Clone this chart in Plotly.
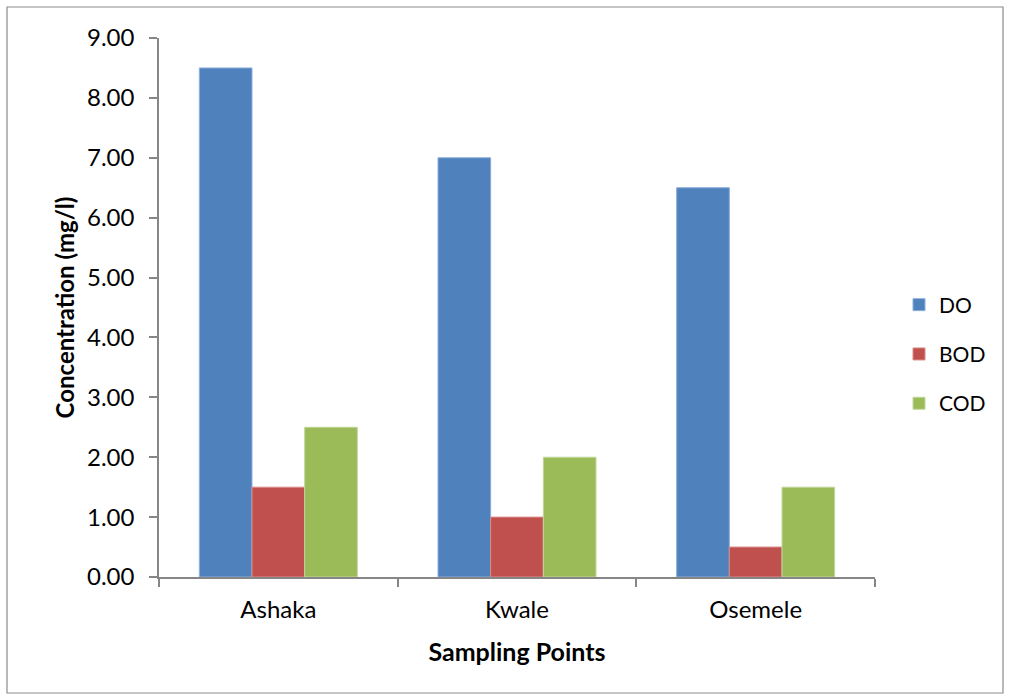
import plotly.graph_objects as go

# Sampling sites and measured concentrations (mg/l)
sites = ["Ashaka", "Kwale", "Osemele"]
do_values = [8.5, 7.0, 6.5]
bod_values = [1.5, 1.0, 0.5]
cod_values = [2.5, 2.0, 1.5]
y_ticks = [0, 1, 2, 3, 4, 5, 6, 7, 8, 9]
y_tick_text = [f"{v:.2f}" for v in y_ticks]

series = [
    ("DO", do_values, "#4F81BD", "#8EAEDB"),
    ("BOD", bod_values, "#C0504D", "#D98C8A"),
    ("COD", cod_values, "#9BBB59", "#C2D79A"),
]

font_family = "Lato, 'Open Sans', sans-serif"
axis_grey = "#868686"

fig = go.Figure()
for i, (name, vals, color, edge) in enumerate(series):
    fig.add_trace(go.Bar(
        x=sites, y=vals, name=name,
        marker=dict(color=color, line=dict(color=edge, width=1)),
        legendgroup=name,
    ))

# Outer frame around the whole chart
L, R, T, B = 159, 875, 38, 577
W = R - L
H = B - T
def px_x(p):
    return (p - L) / W
def px_y(p):
    return (B - p) / H

fig.add_shape(type="rect", xref="paper", yref="paper",
              x0=px_x(7), x1=px_x(1003), y0=px_y(693), y1=px_y(7),
              line=dict(color="#8C8C8C", width=1.2), fillcolor="rgba(0,0,0,0)",
              layer="below")

fig.update_layout(
    width=1010, height=700,
    margin=dict(l=L, r=1010 - R, t=T, b=700 - B),
    paper_bgcolor="white", plot_bgcolor="white",
    barmode="group", bargap=0.338, bargroupgap=0,
    font=dict(family=font_family, color="black", size=22),
    showlegend=True,
    legend=dict(
        x=px_x(899), xanchor="left", y=px_y(354), yanchor="middle",
        font=dict(size=21, family=font_family, color="black"),
        traceorder="grouped", tracegroupgap=19,
        bgcolor="rgba(0,0,0,0)",
    ),
    xaxis=dict(
        type="category", range=[-0.5, 2.5],
        showline=True, linecolor=axis_grey, linewidth=1.5,
        ticks="outside", tickson="boundaries", ticklen=8,
        tickcolor=axis_grey, tickwidth=1.5,
        tickfont=dict(size=24, family=font_family),
        ticklabelstandoff=10,
        title=dict(text="<b>Sampling Points</b>", standoff=22,
                   font=dict(size=25, family=font_family)),
        showgrid=False, zeroline=False,
    ),
    yaxis=dict(
        range=[0, 9], tickvals=y_ticks, ticktext=y_tick_text,
        showline=True, linecolor=axis_grey, linewidth=1.5,
        ticks="outside", ticklen=8, tickcolor=axis_grey, tickwidth=1.5,
        tickfont=dict(size=24, family=font_family),
        ticklabelstandoff=10,
        title=dict(text="<b>Concentration (mg/l)</b>", standoff=6,
                   font=dict(size=24, family=font_family)),
        showgrid=False, zeroline=False,
    ),
)

fig.write_html("out.html")
